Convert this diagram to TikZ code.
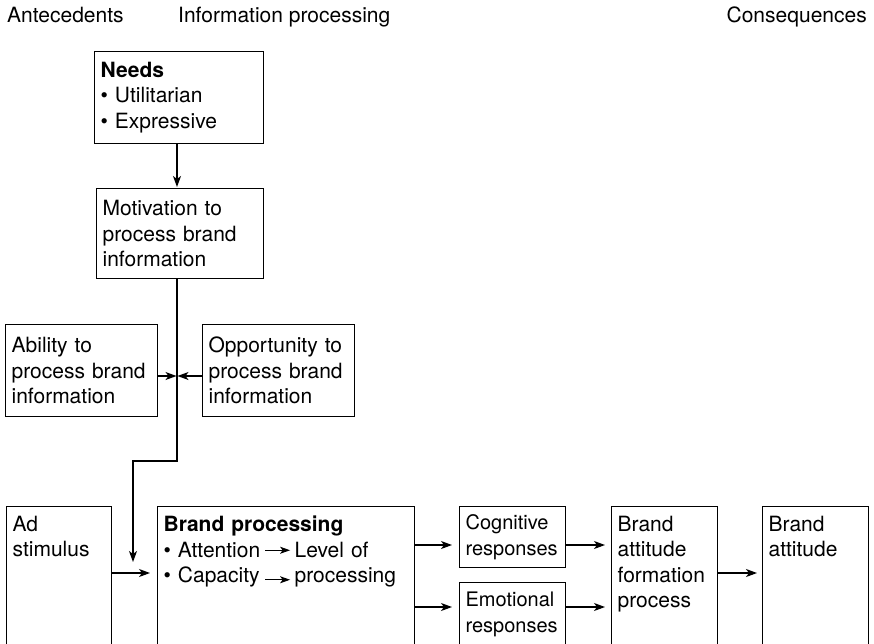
\documentclass[tikz,border=0pt]{standalone}
\usepackage{fontspec}
\setmainfont{TeX Gyre Heros}
\usetikzlibrary{arrows.meta,positioning}

\def\boxFont{\fontsize{21}{25.5}\selectfont}
\def\narrowFont{\fontsize{20}{25.5}\selectfont}
\def\boxPad{6pt}

\newcommand\procarrow[1]{%
  \tikz[baseline={(0pt,-#1pt)}]
  \draw [-{Stealth[length=10pt,width=7pt,inset=2.5pt]}, line width=1pt]
  (0pt,0pt) -- (25pt,0pt);%
}

\tikzset{
  box/.style={draw, line width=1.2pt, anchor=north west, align=left,
    inner xsep=\boxPad, font=\boxFont},
  openbox/.style={box, inner ysep=9.5pt, text depth=150pt},
  flow/.style={-{Stealth[length=11pt,width=8pt,inset=3pt]}, line width=1.2pt},
  heading/.style={font=\boxFont, inner sep=0pt},
}

\begin{document}
\begin{tikzpicture}[x=1pt, y=-1pt]
  \useasboundingbox (0,0) rectangle (874,643);
  \clip (0,0) rectangle (874,643);
  %% column headings
  \node [heading, anchor=base west] (antec) at (7,22) {Antecedents};
  \node [heading, anchor=base west] (infoproc) at (178,22) {Information processing};
  \node [heading, anchor=base east] (conseq) at (867,22) {Consequences};
  %% upper column
  \node [box, text width=157pt, minimum height=92pt] (needs) at (94,51)
  {\textbf{Needs}\\ \textbullet\ Utilitarian\\ \textbullet\ Expressive};
  \node [box, text width=155pt, minimum height=90pt] (motiv) at (96,188)
  {Motivation to\\ process brand\\ information};
  \node [box, text width=140pt, minimum height=92pt] (ability) at (5,324)
  {Ability to\\ process brand\\ information};
  \node [box, text width=140pt, minimum height=92pt] (oppor) at (202,324)
  {Opportunity to\\ process brand\\ information};
  %% lower row
  \node [openbox, text width=93pt] (adstim) at (6,506) {Ad\\ stimulus};
  \node [openbox, text width=245pt] (bp) at (157,506)
  {\textbf{Brand processing}\\
    \makebox[101pt][l]{\textbullet\ Attention}\procarrow{7}\hspace{4pt}Level of\\
    \makebox[101pt][l]{\textbullet\ Capacity}\procarrow{3}\hspace{4pt}processing};
  \node [box, text width=94pt, minimum height=61pt, font=\narrowFont] (cog) at (459,506)
  {Cognitive\\ responses};
  \node [openbox, text width=94pt, font=\narrowFont] (emo) at (459,582)
  {Emotional\\ responses};
  \node [openbox, text width=94pt] (form) at (611,506)
  {Brand\\ attitude\\ formation\\ process};
  \node [openbox, text width=94pt] (att) at (762,506) {Brand\\ attitude};
  %% connectors
  \coordinate (junc) at (177,376);
  \coordinate (bend) at (133,461);
  \coordinate (meet) at (133,562);
  \coordinate (hi) at (0,545);
  \coordinate (lo) at (0,607);
  \coordinate (mid) at (0,573);
  \draw [flow, shorten >=1pt] (needs.south -| junc) -- (motiv.north -| junc);
  \draw [flow] (motiv.south -| junc) -- (junc |- bend) -- (bend) -- (meet);
  \draw [flow] (ability.east |- junc) -- ([xshift=-0.5pt]junc);
  \draw [flow] (oppor.west |- junc) -- ([xshift=0.5pt]junc);
  \draw [flow, shorten >=7pt] (adstim.east |- mid) -- (bp.west |- mid);
  \draw [flow, shorten >=7pt] (bp.east |- hi) -- (cog.west |- hi);
  \draw [flow, shorten >=7pt] (bp.east |- lo) -- (emo.west |- lo);
  \draw [flow, shorten >=6pt] (cog.east |- hi) -- (form.west |- hi);
  \draw [flow, shorten >=6pt] (emo.east |- lo) -- (form.west |- lo);
  \draw [flow, shorten >=5pt] (form.east |- mid) -- (att.west |- mid);
\end{tikzpicture}
\end{document}
